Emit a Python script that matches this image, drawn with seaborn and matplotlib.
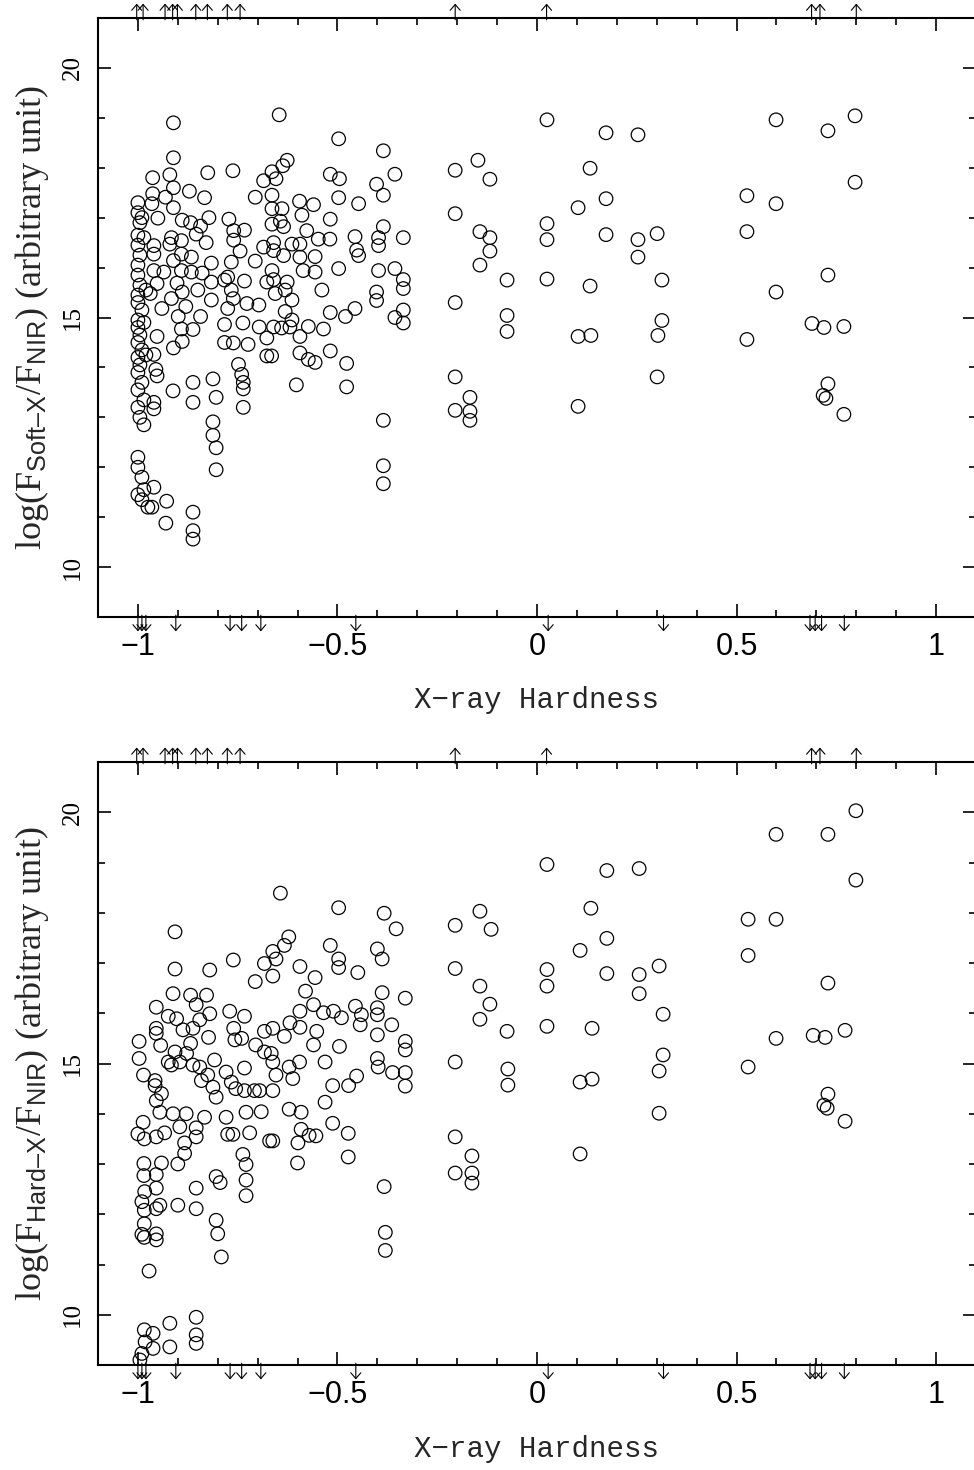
import matplotlib
matplotlib.use("Agg")
import matplotlib.pyplot as plt
import matplotlib.transforms as mtransforms
from matplotlib.ticker import FixedLocator, MultipleLocator
import seaborn as sns
import pandas as pd

# ---------------- data ----------------
# Top panel: (X-ray hardness, log(F_soft-X / F_NIR))
soft_points = [
    (-1.00, 17.30), (-1.00, 17.10), (-0.995, 16.90), (-1.00, 16.65), (-1.00, 16.45), (-0.995, 16.25),
    (-1.00, 16.05), (-1.00, 15.85), (-0.995, 15.65), (-1.00, 15.45), (-1.00, 15.30), (-0.99, 15.15),
    (-1.00, 14.95), (-1.00, 14.80), (-0.995, 14.65), (-1.00, 14.50), (-0.99, 14.35), (-1.00, 14.20),
    (-0.995, 14.05), (-1.00, 13.90), (-0.99, 13.70), (-1.00, 13.55), (-0.985, 13.35), (-1.00, 13.20),
    (-0.995, 13.00), (-0.985, 12.85), (-1.00, 12.20), (-1.00, 12.00), (-0.99, 11.80), (-0.985, 11.55),
    (-1.00, 11.45), (-0.99, 11.35), (-0.975, 11.20), (-0.985, 14.90), (-0.98, 15.55), (-0.98, 14.25),
    (-0.985, 16.60), (-0.99, 17.00),
    (-0.963, 17.80), (-0.965, 17.28), (-0.963, 17.48), (-0.95, 16.99), (-0.96, 16.44), (-0.96, 16.27),
    (-0.96, 15.94), (-0.952, 15.68), (-0.969, 15.48), (-0.94, 15.18), (-0.952, 14.62), (-0.96, 14.26),
    (-0.955, 13.96), (-0.952, 13.83), (-0.96, 13.30), (-0.96, 13.17), (-0.96, 11.60), (-0.965, 11.20),
    (-0.928, 11.32), (-0.93, 10.88),
    (-0.911, 18.90), (-0.911, 18.20), (-0.92, 17.86), (-0.911, 17.60), (-0.931, 17.41), (-0.911, 17.20),
    (-0.916, 16.60), (-0.92, 16.47), (-0.911, 16.14), (-0.935, 15.91), (-0.902, 15.69), (-0.916, 15.38),
    (-0.899, 15.02), (-0.911, 14.39), (-0.912, 13.53),
    (-0.891, 16.54), (-0.889, 16.95), (-0.891, 16.27), (-0.891, 15.94), (-0.889, 15.51), (-0.88, 15.22),
    (-0.891, 14.77), (-0.889, 14.52),
    (-0.871, 17.53), (-0.868, 16.90), (-0.854, 16.67), (-0.866, 16.21), (-0.866, 15.91), (-0.85, 15.55),
    (-0.862, 14.76), (-0.862, 13.70), (-0.862, 13.30), (-0.862, 11.10), (-0.862, 10.73), (-0.862, 10.56),
    (-0.843, 16.83), (-0.839, 15.89), (-0.843, 15.02), (-0.833, 17.40), (-0.825, 17.90), (-0.822, 17.00),
    (-0.829, 16.50), (-0.816, 16.09), (-0.816, 15.71), (-0.816, 15.35), (-0.812, 13.77), (-0.804, 13.40),
    (-0.812, 12.91), (-0.812, 12.64), (-0.804, 12.39), (-0.804, 11.95),
    (-0.783, 15.75), (-0.783, 14.86), (-0.783, 14.50), (-0.775, 15.81), (-0.775, 15.18), (-0.772, 16.97),
    (-0.766, 16.11), (-0.766, 15.55), (-0.762, 17.94), (-0.76, 16.74), (-0.76, 16.55), (-0.761, 15.38),
    (-0.761, 14.49),
    (-0.748, 14.06), (-0.744, 16.33), (-0.74, 13.86), (-0.736, 13.70), (-0.736, 13.57), (-0.736, 13.20),
    (-0.733, 16.75), (-0.733, 15.73), (-0.737, 14.89), (-0.727, 15.28), (-0.724, 14.46),
    (-0.706, 17.41), (-0.706, 16.13), (-0.697, 15.25), (-0.696, 14.81), (-0.685, 17.74), (-0.685, 16.41),
    (-0.677, 15.71), (-0.677, 14.59), (-0.677, 14.23), (-0.665, 14.23),
    (-0.664, 17.92), (-0.664, 17.45), (-0.664, 17.18), (-0.664, 16.87), (-0.66, 16.50), (-0.66, 16.34),
    (-0.664, 15.94), (-0.66, 15.76), (-0.656, 15.48), (-0.66, 14.81), (-0.654, 17.78),
    (-0.646, 19.06), (-0.643, 16.93), (-0.639, 17.18), (-0.637, 18.04), (-0.635, 16.82), (-0.635, 16.24),
    (-0.626, 18.15), (-0.626, 15.71), (-0.631, 15.55), (-0.631, 15.12), (-0.64, 14.79), (-0.619, 14.81),
    (-0.614, 16.47), (-0.614, 15.35), (-0.614, 14.95), (-0.603, 13.65), (-0.594, 16.47), (-0.594, 16.21),
    (-0.595, 17.33), (-0.589, 17.05), (-0.586, 15.94), (-0.594, 14.62), (-0.594, 14.29), (-0.577, 16.74),
    (-0.573, 14.82), (-0.573, 14.16), (-0.56, 17.26), (-0.556, 16.22), (-0.556, 15.91), (-0.556, 14.10),
    (-0.548, 16.57), (-0.539, 15.55), (-0.535, 14.77),
    (-0.519, 16.57), (-0.518, 16.97), (-0.518, 17.87), (-0.518, 15.10), (-0.518, 14.33), (-0.497, 18.58),
    (-0.495, 17.78), (-0.497, 17.40), (-0.497, 15.98), (-0.48, 15.02), (-0.477, 14.08), (-0.477, 13.61),
    (-0.456, 16.62), (-0.456, 15.18), (-0.452, 16.35), (-0.447, 17.28), (-0.447, 16.24),
    (-0.402, 17.67), (-0.397, 16.60), (-0.397, 16.44), (-0.397, 15.94), (-0.402, 15.51), (-0.402, 15.34),
    (-0.385, 18.34), (-0.385, 17.45), (-0.385, 16.82), (-0.385, 12.94), (-0.385, 12.03), (-0.385, 11.67),
    (-0.356, 17.87), (-0.356, 15.98), (-0.356, 15.00), (-0.335, 16.60), (-0.335, 15.76), (-0.335, 15.58),
    (-0.335, 15.15), (-0.335, 14.89),
    (-0.205, 17.95), (-0.205, 17.08), (-0.205, 15.30), (-0.205, 13.81), (-0.205, 13.14), (-0.168, 13.40),
    (-0.168, 13.12), (-0.168, 12.94), (-0.148, 18.15), (-0.118, 17.77), (-0.143, 16.72), (-0.118, 16.60),
    (-0.118, 16.33), (-0.143, 16.05), (-0.075, 15.75), (-0.075, 15.04), (-0.075, 14.72),
    (0.025, 18.96), (0.025, 16.88), (0.025, 16.56), (0.025, 15.77), (0.103, 17.20), (0.103, 14.62),
    (0.103, 13.22), (0.133, 17.99), (0.133, 15.63), (0.135, 14.64), (0.173, 18.70), (0.173, 17.38),
    (0.173, 16.66), (0.253, 18.66), (0.253, 16.56), (0.253, 16.21), (0.301, 16.68), (0.303, 14.64),
    (0.301, 13.81), (0.313, 15.75), (0.313, 14.94),
    (0.526, 17.44), (0.526, 16.72), (0.526, 14.56), (0.599, 18.96), (0.599, 17.28), (0.599, 15.51),
    (0.689, 14.88), (0.719, 14.80), (0.717, 13.44), (0.724, 13.38), (0.729, 13.67), (0.729, 18.74),
    (0.729, 15.85), (0.769, 14.82), (0.769, 13.06), (0.797, 19.04), (0.797, 17.71),
]

# Bottom panel: (X-ray hardness, log(F_hard-X / F_NIR))
hard_points = [
    (-0.997, 15.44), (-0.997, 15.10), (-0.986, 14.77), (-0.987, 13.83), (-0.984, 13.50), (-0.985, 13.01),
    (-0.985, 12.77), (-0.983, 12.45), (-0.984, 12.08), (-0.984, 11.81), (-0.984, 11.54), (-0.972, 10.87),
    (-0.984, 9.70), (-0.982, 9.46), (-0.99, 9.23), (-0.995, 9.10), (-1.00, 13.60), (-0.99, 12.25),
    (-0.99, 11.60),
    (-0.962, 9.63), (-0.962, 9.33), (-0.92, 9.83), (-0.92, 9.36), (-0.854, 9.95), (-0.854, 9.60),
    (-0.854, 9.43),
    (-0.954, 16.12), (-0.954, 15.70), (-0.954, 15.60), (-0.943, 15.36), (-0.957, 14.66), (-0.957, 14.56),
    (-0.954, 14.26), (-0.945, 14.03), (-0.954, 13.54), (-0.933, 13.62), (-0.941, 13.02), (-0.954, 12.79),
    (-0.954, 12.52), (-0.945, 12.18), (-0.954, 12.11), (-0.954, 11.61), (-0.954, 11.49), (-0.941, 14.40),
    (-0.907, 17.62), (-0.907, 16.88), (-0.912, 16.39), (-0.924, 15.94), (-0.903, 15.89), (-0.907, 15.23),
    (-0.924, 15.03), (-0.916, 14.97), (-0.912, 14.00), (-0.895, 13.74), (-0.90, 13.00), (-0.90, 12.18),
    (-0.895, 15.03), (-0.887, 15.67),
    (-0.868, 16.36), (-0.854, 16.17), (-0.862, 15.70), (-0.845, 15.87), (-0.868, 15.40), (-0.878, 15.20),
    (-0.862, 14.97), (-0.845, 14.93), (-0.879, 14.00), (-0.854, 13.72), (-0.854, 13.54), (-0.883, 13.42),
    (-0.883, 13.21), (-0.854, 12.52), (-0.854, 12.11),
    (-0.828, 16.36), (-0.82, 16.86), (-0.82, 15.99), (-0.823, 15.52), (-0.808, 15.07), (-0.825, 14.77),
    (-0.841, 14.66), (-0.812, 14.53), (-0.804, 14.33), (-0.833, 13.93), (-0.804, 12.75), (-0.794, 12.63),
    (-0.804, 11.88), (-0.80, 11.61), (-0.791, 11.15),
    (-0.761, 17.06), (-0.77, 16.04), (-0.76, 15.70), (-0.757, 15.47), (-0.779, 14.83), (-0.766, 14.63),
    (-0.755, 14.50), (-0.779, 13.93), (-0.775, 13.59), (-0.762, 13.59),
    (-0.733, 15.94), (-0.74, 15.50), (-0.733, 14.91), (-0.733, 14.46), (-0.729, 14.03), (-0.72, 13.62),
    (-0.737, 13.19), (-0.729, 12.99), (-0.729, 12.68), (-0.729, 12.37),
    (-0.706, 16.63), (-0.705, 15.37), (-0.708, 14.46), (-0.695, 14.46), (-0.691, 14.04), (-0.683, 16.99),
    (-0.683, 15.23), (-0.683, 15.64), (-0.67, 13.46),
    (-0.662, 17.23), (-0.654, 17.08), (-0.662, 16.74), (-0.666, 15.20), (-0.662, 15.03), (-0.662, 15.70),
    (-0.654, 14.77), (-0.662, 14.46), (-0.662, 13.46),
    (-0.643, 18.39), (-0.622, 17.52), (-0.633, 17.35), (-0.633, 15.54), (-0.619, 15.81), (-0.621, 14.93),
    (-0.612, 14.70), (-0.621, 14.09),
    (-0.594, 16.93), (-0.58, 16.44), (-0.594, 16.04), (-0.594, 15.72), (-0.595, 15.03), (-0.591, 14.03),
    (-0.591, 13.69), (-0.599, 13.42), (-0.60, 13.02), (-0.571, 13.57), (-0.554, 13.56),
    (-0.556, 16.71), (-0.56, 16.17), (-0.56, 15.37), (-0.552, 15.64), (-0.535, 16.01), (-0.531, 15.03),
    (-0.531, 14.23),
    (-0.518, 17.35), (-0.51, 16.04), (-0.512, 14.56), (-0.512, 13.81), (-0.497, 18.10), (-0.497, 17.08),
    (-0.497, 16.91), (-0.49, 15.91), (-0.495, 15.34), (-0.472, 14.56), (-0.473, 13.61), (-0.473, 13.14),
    (-0.455, 16.14), (-0.452, 14.75), (-0.449, 16.81), (-0.44, 15.97), (-0.443, 15.77),
    (-0.40, 17.28), (-0.388, 17.08), (-0.388, 16.41), (-0.40, 16.11), (-0.40, 15.97), (-0.40, 15.57),
    (-0.40, 15.10), (-0.398, 14.93), (-0.383, 17.99), (-0.383, 12.55), (-0.38, 11.64), (-0.38, 11.28),
    (-0.364, 15.77), (-0.362, 14.82), (-0.353, 17.68), (-0.33, 16.30), (-0.33, 15.44), (-0.33, 15.27),
    (-0.33, 14.82), (-0.33, 14.55),
    (-0.205, 17.75), (-0.205, 16.89), (-0.205, 15.03), (-0.205, 13.54), (-0.205, 12.82), (-0.163, 12.82),
    (-0.163, 12.62), (-0.163, 13.16), (-0.143, 18.03), (-0.115, 17.67), (-0.143, 16.54), (-0.118, 16.18),
    (-0.143, 15.88), (-0.075, 15.64), (-0.073, 14.89), (-0.073, 14.57),
    (0.025, 18.96), (0.025, 16.87), (0.025, 16.54), (0.025, 15.74), (0.108, 17.25), (0.108, 14.63),
    (0.108, 13.20), (0.135, 18.09), (0.138, 15.70), (0.138, 14.69), (0.175, 18.84), (0.175, 17.49),
    (0.175, 16.79), (0.256, 18.88), (0.256, 16.77), (0.256, 16.39), (0.306, 16.94), (0.306, 14.85),
    (0.306, 14.01), (0.316, 15.98), (0.316, 15.17),
    (0.529, 17.87), (0.529, 17.15), (0.529, 14.93), (0.599, 19.56), (0.599, 17.87), (0.599, 15.50),
    (0.692, 15.56), (0.722, 15.52), (0.719, 14.17), (0.727, 14.11), (0.729, 14.39), (0.729, 19.56),
    (0.729, 16.60), (0.772, 15.66), (0.772, 13.85), (0.799, 20.03), (0.799, 18.65),
]

# Hardness of sources whose ratio is off the top (upper arrows) / bottom (lower arrows)
upper_arrow_x = [-1.003, -0.987, -0.932, -0.913, -0.901, -0.855, -0.826, -0.776, -0.744,
                 -0.205, 0.024, 0.688, 0.709, 0.800]
lower_arrow_x = [-1.000, -0.990, -0.980, -0.905, -0.769, -0.740, -0.692, -0.454,
                 0.028, 0.317, 0.684, 0.697, 0.713, 0.770]

x_ticks = [-1, -0.5, 0, 0.5, 1]
x_ticklabels = ["\u22121", "\u22120.5", "0", "0.5", "1"]
y_ticks = [10, 15, 20]
y_ticklabels = ["10", "15", "20"]

panels = [
    (soft_points, r"$\mathrm{log(F_{\mathsf{Soft–X}}/F_{\mathsf{NIR}})}$ (arbitrary unit)"),
    (hard_points, r"$\mathrm{log(F_{\mathsf{Hard–X}}/F_{\mathsf{NIR}})}$ (arbitrary unit)"),
]

# ---------------- style ----------------
sns.set_theme(style="ticks")
plt.rcParams["font.family"] = ["Liberation Sans", "DejaVu Sans"]
plt.rcParams["mathtext.fontset"] = "custom"
plt.rcParams["mathtext.rm"] = "Liberation Serif"
plt.rcParams["mathtext.sf"] = "Liberation Sans"
plt.rcParams["axes.linewidth"] = 1.5

fig = plt.figure(figsize=(9.74, 14.70), dpi=100)
W, H = 974.0, 1470.0
axes_boxes = [(98, 18, 976, 617), (98, 762, 976, 1365)]

for (pts, ylab), (l, t, r, b) in zip(panels, axes_boxes):
    ax = fig.add_axes([l / W, 1 - b / H, (r - l) / W, (b - t) / H])
    df = pd.DataFrame(pts, columns=["hardness", "ratio"])
    sns.scatterplot(data=df, x="hardness", y="ratio", ax=ax, marker="o", s=95,
                    facecolor="none", edgecolor="black", linewidth=0.9, zorder=3)
    ax.set_xlim(-1.1, 1.1)
    ax.set_ylim(9, 21)
    ax.xaxis.set_major_locator(FixedLocator(x_ticks))
    ax.xaxis.set_minor_locator(MultipleLocator(0.1))
    ax.yaxis.set_major_locator(FixedLocator(y_ticks))
    ax.yaxis.set_minor_locator(MultipleLocator(1))
    ax.set_xticklabels(x_ticklabels, fontsize=22, fontfamily="Liberation Sans")
    ax.set_yticklabels(y_ticklabels, fontsize=18, fontfamily="Liberation Serif",
                       rotation=90, va="center")
    ax.tick_params(which="both", direction="in", top=True, right=True, width=1.2, colors="black")
    ax.tick_params(which="major", length=9.5)
    ax.tick_params(which="minor", length=5)
    ax.tick_params(axis="x", which="major", pad=11)
    ax.tick_params(axis="y", which="major", pad=10)
    for sp in ax.spines.values():
        sp.set_color("black")

    ax.set_xlabel("X\u2212ray Hardness", fontsize=21, fontfamily="Liberation Mono")
    ax.xaxis.set_label_coords(0.5, -0.116)
    ax.set_ylabel(ylab, fontsize=26, fontfamily="Liberation Serif")
    ax.yaxis.set_label_coords(-0.054, 0.5)

    trans = mtransforms.blended_transform_factory(ax.transData, ax.transAxes)
    astyle = "->,head_length=0.35,head_width=0.3"
    for xv in upper_arrow_x:
        ax.annotate("", xy=(xv, 1.024), xycoords=trans, xytext=(xv, 0.997), textcoords=trans,
                    arrowprops=dict(arrowstyle=astyle, lw=0.8, color="black", shrinkA=0, shrinkB=0),
                    annotation_clip=False)
    for xv in lower_arrow_x:
        ax.annotate("", xy=(xv, -0.024), xycoords=trans, xytext=(xv, 0.003), textcoords=trans,
                    arrowprops=dict(arrowstyle=astyle, lw=0.8, color="black", shrinkA=0, shrinkB=0),
                    annotation_clip=False)

fig.savefig("out.png", dpi=100)
